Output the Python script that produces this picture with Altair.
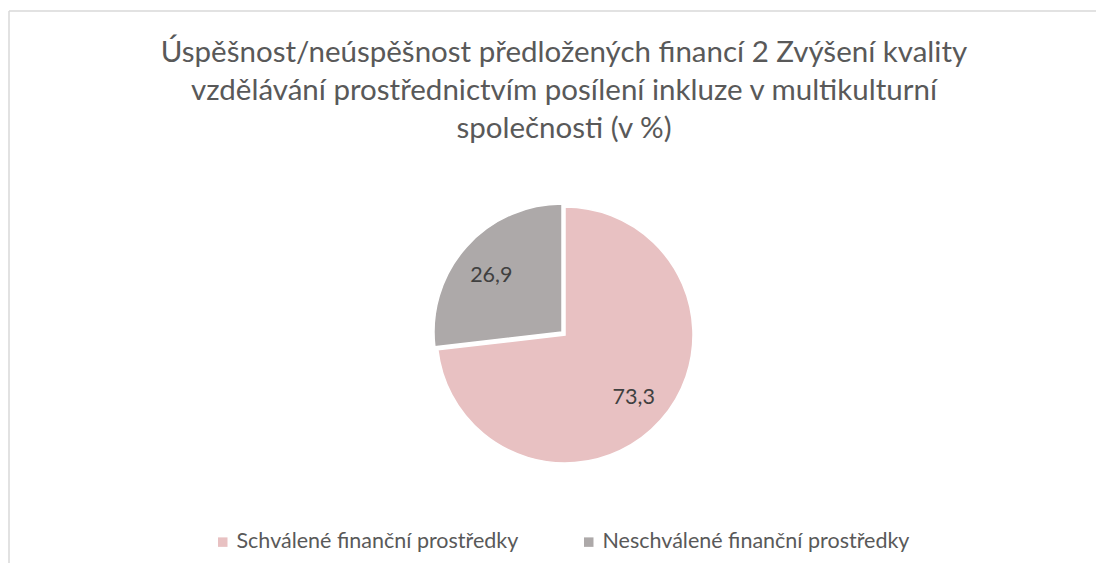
import altair as alt
import pandas as pd

# ---- data ----
categories = ["Schválené finanční prostředky", "Neschválené finanční prostředky"]
values = [73.3, 26.9]
order = [0, 1]
colors = ["#E8C1C2", "#ADA9A9"]
title_lines = [
    "Úspěšnost/neúspěšnost předložených financí 2 Zvýšení kvality",
    "vzdělávání prostřednictvím posílení inkluze v multikulturní",
    "společnosti (v %)",
]

df = pd.DataFrame({"cat": categories, "value": values, "order": order})
total = sum(values)

FONT = "Lato"
W, H = 1087, 552
CX, CY = 556, 324
R = 128
EX = 3  # explode offset for the second slice

base = (
    alt.Chart(df)
    .transform_window(cum="sum(value)", sort=[alt.SortField("order")])
    .transform_calculate(
        start="datum.cum - datum.value",
        mid="datum.cum - datum.value / 2",
        label="replace(format(datum.value, '.1f'), '.', ',')",
    )
)

theta_scale = alt.Scale(domain=[0, total], nice=False, zero=True)
color_enc = alt.Color(
    "cat:N",
    scale=alt.Scale(domain=categories, range=colors),
    legend=alt.Legend(
        title=None,
        orient="none",
        legendX=203,
        legendY=520,
        offset=0,
        padding=0,
        direction="horizontal",
        symbolType="square",
        symbolSize=90,
        symbolStrokeWidth=0,
        labelFont=FONT,
        labelFontSize=21.5,
        labelColor="#595959",
        labelOffset=3,
        labelLimit=0,
        columnPadding=59,
    ),
)


def slice_layer(idx, cx, cy):
    return (
        base.transform_filter(f"datum.order == {idx}")
        .mark_arc(outerRadius=R, stroke="white", strokeWidth=1.5)
        .encode(
            theta=alt.Theta("start:Q", scale=theta_scale, stack=False),
            theta2="cum:Q",
            color=color_enc,
            x=alt.value(cx),
            y=alt.value(cy),
        )
    )


def label_layer(idx, cx, cy, dx, dy):
    return (
        base.transform_filter(f"datum.order == {idx}")
        .mark_text(radius=92, font=FONT, fontSize=21.5, color="#404040", dx=dx, dy=dy)
        .encode(
            theta=alt.Theta("mid:Q", scale=theta_scale, stack=False),
            text="label:N",
            x=alt.value(cx),
            y=alt.value(cy),
        )
    )


frame_df = pd.DataFrame({"a": [0]})
top_rule = alt.Chart(frame_df).mark_rule(color="#D9D9D9", strokeWidth=1.5).encode(
    x=alt.value(0), x2=alt.value(W), y=alt.value(0)
)
left_rule = alt.Chart(frame_df).mark_rule(color="#D9D9D9", strokeWidth=1.5).encode(
    x=alt.value(0), y=alt.value(0), y2=alt.value(H)
)
title_text = alt.Chart(frame_df).mark_text(
    text=title_lines,
    font=FONT,
    fontSize=29.5,
    color="#595959",
    align="center",
    baseline="alphabetic",
    lineHeight=38,
).encode(x=alt.value(555), y=alt.value(51))

chart = (
    alt.layer(
        top_rule,
        left_rule,
        title_text,
        slice_layer(0, CX, CY),
        slice_layer(1, CX - EX, CY - EX),
        label_layer(0, CX, CY, 0, 2),
        label_layer(1, CX - EX, CY - EX, -2, 5),
    )
    .properties(
        width=W,
        height=H,
        padding={"left": 1, "top": 3, "right": 0, "bottom": 0},
        autosize=alt.AutoSizeParams(type="none"),
    )
    .configure_view(stroke=None)
)

chart.save("out.html", embed_options={"renderer": "svg", "actions": False})
